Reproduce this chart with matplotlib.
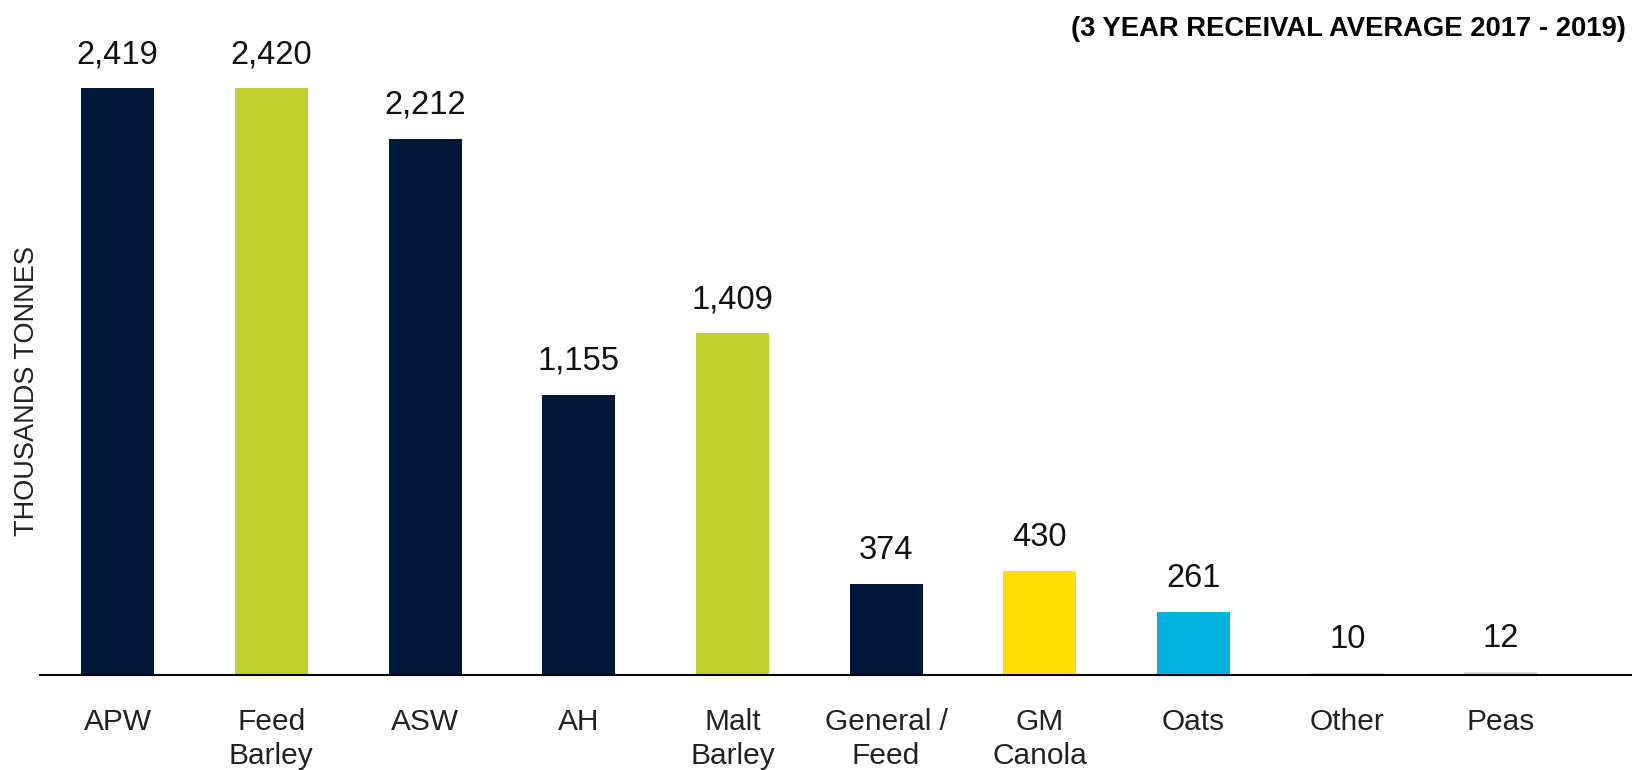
import matplotlib
matplotlib.use("Agg")
import matplotlib.pyplot as plt

plt.rcParams["font.family"] = ["Liberation Sans", "DejaVu Sans"]

# data
categories = ["APW", "Feed\nBarley", "ASW", "AH", "Malt\nBarley",
              "General /\nFeed", "GM\nCanola", "Oats", "Other", "Peas"]
values = [2419, 2420, 2212, 1155, 1409, 374, 430, 261, 10, 12]

# styles
NAVY, LIME, YELLOW, CYAN, GREY = "#011839", "#BFD22B", "#FFDD00", "#00B1DC", "#D9D9D9"
bar_colors = [NAVY, LIME, NAVY, NAVY, LIME, NAVY, YELLOW, CYAN, GREY, GREY]

fig = plt.figure(figsize=(16.32, 7.70), dpi=100)
ax = fig.add_axes([40 / 1632, 95 / 770, 1592 / 1632, 635 / 770])

x = list(range(len(categories)))
ax.bar(x, values, width=0.475, color=bar_colors, zorder=2)
for xi, v in zip(x, values):
    ax.annotate(f"{v:,}", (xi, v), xytext=(0, 13), textcoords="offset points",
                ha="center", va="bottom", fontsize=23.5, color="#111111")

ax.set_xlim(-0.505, 9.853)
ax.set_ylim(0, 2619)
ax.set_xticks(x)
ax.set_xticklabels(categories, fontsize=21.5, color="#222222", linespacing=1.3, va="top")
ax.tick_params(axis="x", length=0, pad=23.5)
ax.set_yticks([])
for s in ["top", "right", "left"]:
    ax.spines[s].set_visible(False)
ax.spines["bottom"].set_linewidth(1.5)
ax.spines["bottom"].set_color("#000000")

fig.text(27 / 1632, 1 - 391 / 770, "THOUSANDS TONNES", rotation=90,
         ha="center", va="center", fontsize=19.5, color="#222222")
fig.text(1626 / 1632, 1 - 29 / 770, "(3 YEAR RECEIVAL AVERAGE 2017 - 2019)",
         ha="right", va="center", fontsize=19.7, fontweight="bold", color="#000000")

fig.savefig("out.png", dpi=100)
